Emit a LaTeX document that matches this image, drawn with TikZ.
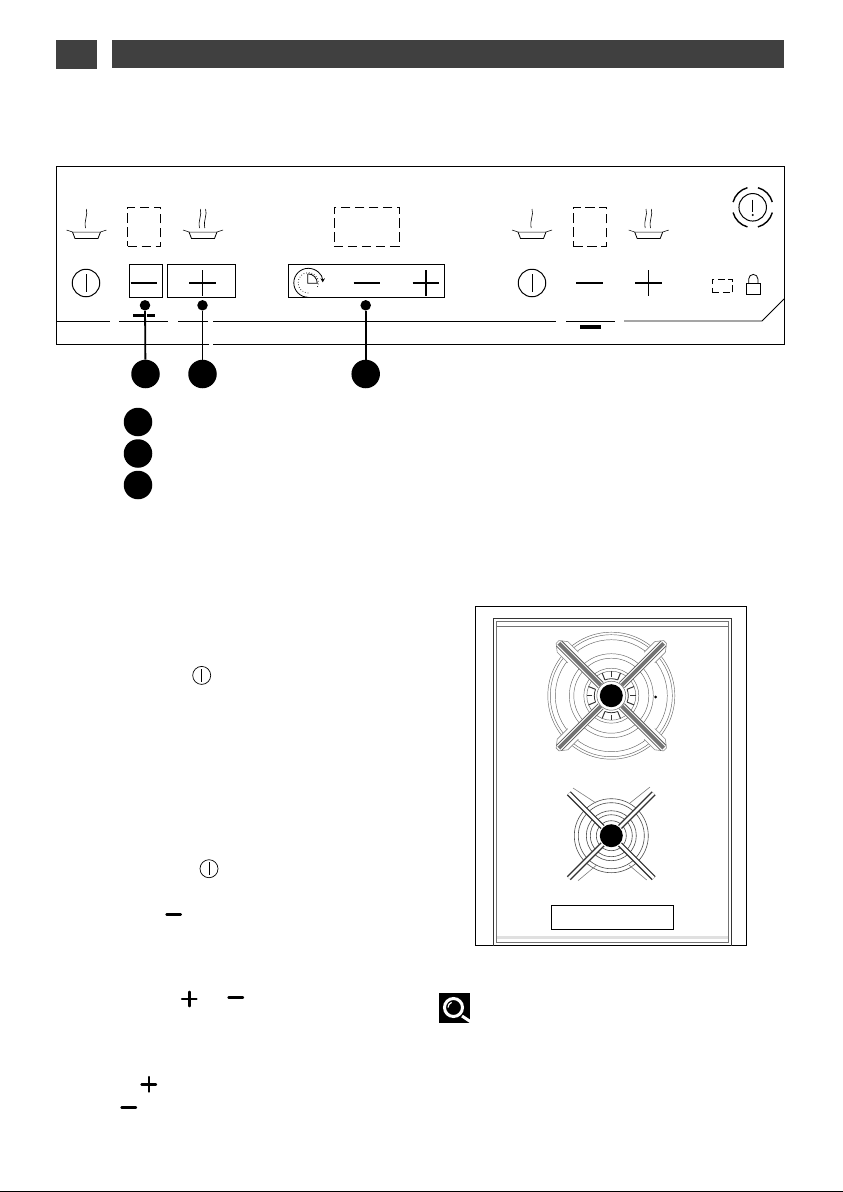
\documentclass[tikz,border=0pt]{standalone}
\usetikzlibrary{positioning}
\usetikzlibrary{arrows.meta}
\definecolor{headgray}{HTML}{404040}
\tikzset{
  thinline/.style={line width=0.8pt},
  panelline/.style={line width=1pt},
  dashbox/.style={draw, line width=0.9pt, dash pattern=on 9.5pt off 4.5pt, inner sep=0pt},
  keybox/.style={draw, line width=0.9pt, inner sep=0pt},
  powerc/.style={draw, circle, line width=1pt, inner sep=0pt, minimum size=27.5pt},
  smallpower/.style={draw, circle, line width=0.7pt, inner sep=0pt, minimum size=18pt},
  tinydot/.style={fill=black, circle, inner sep=0pt, minimum size=10.5pt},
  numdot/.style={fill=black, circle, inner sep=0pt, minimum size=28.5pt},
  hubdot/.style={fill=black, circle, inner sep=0pt, minimum size=23pt},
  linkline/.style={line width=1.8pt},
  minusbar/.style={line width=1.6pt},
  plusthin/.style={line width=0.7pt},
  boldmark/.style={line width=2.4pt, line cap=round},
  pan/.pic={
    \draw[line width=0.5pt] (-20,-2) -- (-14,0) -- (14,0) -- (20,-2);
    \draw[line width=0.8pt] (-14,0) -- (-11.5,6.5) -- (11.5,6.5) -- (14,0);
  },
  steam/.pic={
    \draw[line width=0.6pt] (0,0) .. controls (2,6) and (-2.5,11) .. (-0.8,19);
  }
}
\begin{document}
\begin{tikzpicture}[x=1pt,y=-1pt]
  \useasboundingbox (0,0) rectangle (843,1192);
  \fill[white] (0,0) rectangle (843,1192);

  % header bars
  \fill[headgray] (56,40) rectangle (96.5,69);
  \fill[headgray] (112,40) rectangle (784,68);

  % control panel outline
  \draw[panelline] (209,344) -- (56.3,344) -- (56.3,166) -- (784,166) -- (784,344) -- (213,344);
  \draw[thinline] (56.3,321) -- (110,321);
  \draw[thinline] (119,321) -- (168,321);
  \draw[thinline] (178,321) -- (208,321);
  \draw[thinline] (213,321) -- (556,321);
  \draw[thinline] (566,321) -- (615,321);
  \draw[thinline] (624,321) -- (762,321) -- (784,299);
  \fill (133,314) rectangle (143.5,317);
  \fill (147,314) rectangle (155,317);
  \fill (580,325) rectangle (601,329);

  % displays
  \node[dashbox, minimum width=33pt, minimum height=39.5pt] (dispa) at (144,226.7) {};
  \node[dashbox, minimum width=65.5pt, minimum height=39.5pt] (dispb) at (366.7,226.7) {};
  \node[dashbox, minimum width=33pt, minimum height=39.5pt] (dispc) at (589.8,226.7) {};
  \node[dashbox, dash pattern=on 7pt off 3.5pt, minimum width=20.5pt, minimum height=13.5pt] (dispd) at (722.5,286) {};

  % pans with steam
  \pic at (86.5,232) {pan};
  \pic at (86.3,209) {steam};
  \pic at (203,232) {pan};
  \pic at (200.3,209) {steam};
  \pic at (205.6,209) {steam};
  \pic at (532,232) {pan};
  \pic at (532,209) {steam};
  \pic at (648.7,232) {pan};
  \pic at (646,209) {steam};
  \pic at (651.3,209) {steam};

  % power keys
  \node[powerc] (powa) at (86,283) {};
  \node[powerc] (powb) at (532,283) {};
  \foreach \p in {powa,powb}
    \draw[line width=0.9pt] ([yshift=-5.5pt]\p.north) -- ([yshift=5.5pt]\p.south);

  % key boxes
  \node[keybox, minimum width=33.5pt, minimum height=33pt] (keya) at (145.8,280.8) {};
  \node[keybox, minimum width=68pt, minimum height=33pt] (keyb) at (201.5,280.8) {};
  \node[keybox, minimum width=156.5pt, minimum height=33pt] (keyc) at (366.5,280.8) {};

  % minus and plus
  \foreach \x in {144,367,589.5}
    \draw[minusbar] (\x-13.3,283) -- (\x+13.3,283);
  \foreach \x in {202.5,426,648.5}
    \draw[minusbar] (\x-13.3,283) -- (\x+13.3,283);
  \draw[plusthin] (202.5,270) -- (202.5,296);
  \draw[line width=1.4pt] (426,270) -- (426,296);
  \draw[plusthin] (648.5,270) -- (648.5,296);

  % timer symbol
  \draw[thinline, -{Stealth[length=4pt,width=4.5pt]}] (308.3,297.3) arc (90:358:14.5);
  \draw[line width=0.7pt, dotted] (308.3,293) arc (90:395:10.2);
  \draw[thinline] (307.8,274) -- (307.8,283.3) -- (317.3,283.3) arc (0:-90:9.5);

  % warning symbol
  \node[powerc] (warn) at (752.7,207.3) {};
  \foreach \a in {15,105,195,285}
    \draw[line width=1.4pt] (752.7,207.3) ++(\a:20.3) arc (\a:\a+60:20.3);
  \draw[line width=1.1pt] (752.7,199.5) -- (752.7,211.5);
  \fill (752.7,215) circle (1.1);

  % lock
  \draw[thinline] (746,283.3) rectangle (760.7,294);
  \draw[thinline] (748.7,283.3) -- (748.7,279) arc (180:360:4.6) -- (757.9,283.3);

  % callouts
  \node[tinydot] (dota) at (145,305.3) {};
  \node[tinydot] (dotb) at (202.5,305.3) {};
  \node[tinydot] (dotc) at (365.7,305.3) {};
  \node[numdot] (numa) at (145.5,374) {};
  \node[numdot] (numb) at (202.5,374) {};
  \node[numdot] (numc) at (365.7,374) {};
  \draw[linkline] (dota) -- (numa);
  \draw[linkline] (dotb) -- (numb);
  \draw[linkline] (dotc) -- (numc);

  % legend
  \node[numdot] (lega) at (138,422) {};
  \node[numdot] (legb) at (138,453.5) {};
  \node[numdot] (legc) at (138,485) {};

  % hob frame
  \draw[panelline] (475.7,606.7) rectangle (746.7,945.5);
  \draw[line width=1pt, black!80] (493.3,945.5) -- (493.3,618.3) -- (731.7,618.3) -- (731.7,945.5);
  \draw[line width=0.6pt, black!55] (496.7,942) -- (496.7,621.7) -- (728,621.7) -- (728,942) -- cycle;
  \draw[line width=0.6pt, black!55] (496.7,626.7) -- (728,626.7);
  \fill[black!12] (496.7,935.7) rectangle (728,939.3);

  % large burner
  \foreach \r in {63.5,61,56,42,37.5,27.5,24.5}
    \draw[line width=0.45pt, black!60] (611.3,695.7) circle (\r);
  \foreach \a in {0,90,180,270}{
    \draw[line width=0.8pt, black!80] (611.3,695.7) ++(\a-22:17) arc (\a-22:\a+22:17);
    \draw[line width=1pt, black!80] (611.3,695.7) ++(\a-22:17) -- ++(\a-22:7.5);
    \draw[line width=1pt, black!80] (611.3,695.7) ++(\a+22:17) -- ++(\a+22:7.5);
    \draw[line width=1pt, black!80] (611.3,695.7) ++(\a:19) -- ++(\a:5.5);
  }
  \fill (655.7,697) circle (1.5);
  \foreach \a in {45,135,225,315}{
    \begin{scope}[shift={(611.3,695.7)},rotate=\a]
      \draw[line width=0.6pt, black!45, fill=white] (54,-7.5) -- (69,-7.5) -- (76,-2) -- (76,2) -- (69,7.5) -- (54,7.5);
      \draw[line width=8pt, black!65] (15,0) -- (74,0);
      \draw[line width=6.2pt, white] (15,0) -- (74,0);
      \draw[line width=3.8pt, black!55] (15,0) -- (74,0);
    \end{scope}
  }
  \fill[white] (611.3,695.7) circle (14.5);
  \draw[line width=0.5pt, black!60] (611.3,695.7) circle (14.5);
  \node[hubdot] (huba) at (611.3,695.7) {};

  % small burner
  \foreach \r in {37,33,25,21,15}
    \draw[line width=0.6pt, black!70] (611.3,835.7) circle (\r);
  \foreach \a in {45,135,225,315}{
    \begin{scope}[shift={(611.3,835.7)},rotate=\a]
      \draw[line width=5.5pt, black!80] (12,0) -- (60,0);
      \draw[line width=2.8pt, white] (12,0) -- (60,0);
    \end{scope}
  }
  \draw[line width=0.6pt, black!50] (573,788) -- (596,803);
  \draw[line width=0.6pt, black!50] (630,803) -- (650,787);
  \draw[line width=0.6pt, black!50] (578,880.7) -- (596.7,865);
  \draw[line width=0.6pt, black!50] (629,865) -- (646.7,880);
  \fill[white] (611.3,835.7) circle (12.5);
  \node[hubdot] (hubb) at (611.3,835.7) {};

  % label box under the burners
  \node[keybox, minimum width=122.7pt, minimum height=24.4pt] (platebox) at (612.3,917.5) {};

  % magnifier
  \fill (439.3,993.3) rectangle (470,1022.7);
  \draw[white, line width=3pt] (453.5,1007.5) circle (9);
  \draw[white, line width=3pt] (462,1016) -- (472.5,1023);
  \draw[white, line width=1.2pt] (448,1007.5) arc (180:250:5.5);

  % inline symbols in the text column
  \node[smallpower] (inla) at (201.7,675.4) {};
  \node[smallpower] (inlb) at (209,868.7) {};
  \foreach \p in {inla,inlb}
    \draw[line width=0.7pt] ([yshift=-3pt]\p.north) -- ([yshift=3pt]\p.south);
  \draw[boldmark] (166.5,914.3) -- (180.8,914.3);
  \draw[boldmark] (182,999) -- (196.5,999);
  \draw[boldmark] (189.3,991.8) -- (189.3,1006.2);
  \draw[boldmark] (228.5,997.3) -- (243,997.3);
  \draw[boldmark] (141.5,1084.3) -- (156,1084.3);
  \draw[boldmark] (148.7,1077) -- (148.7,1091.6);
  \draw[boldmark] (121.5,1107.3) -- (136,1107.3);

  % scan edge at the foot of the page
  \fill (0,1191) rectangle (843,1192);
\end{tikzpicture}
\end{document}
